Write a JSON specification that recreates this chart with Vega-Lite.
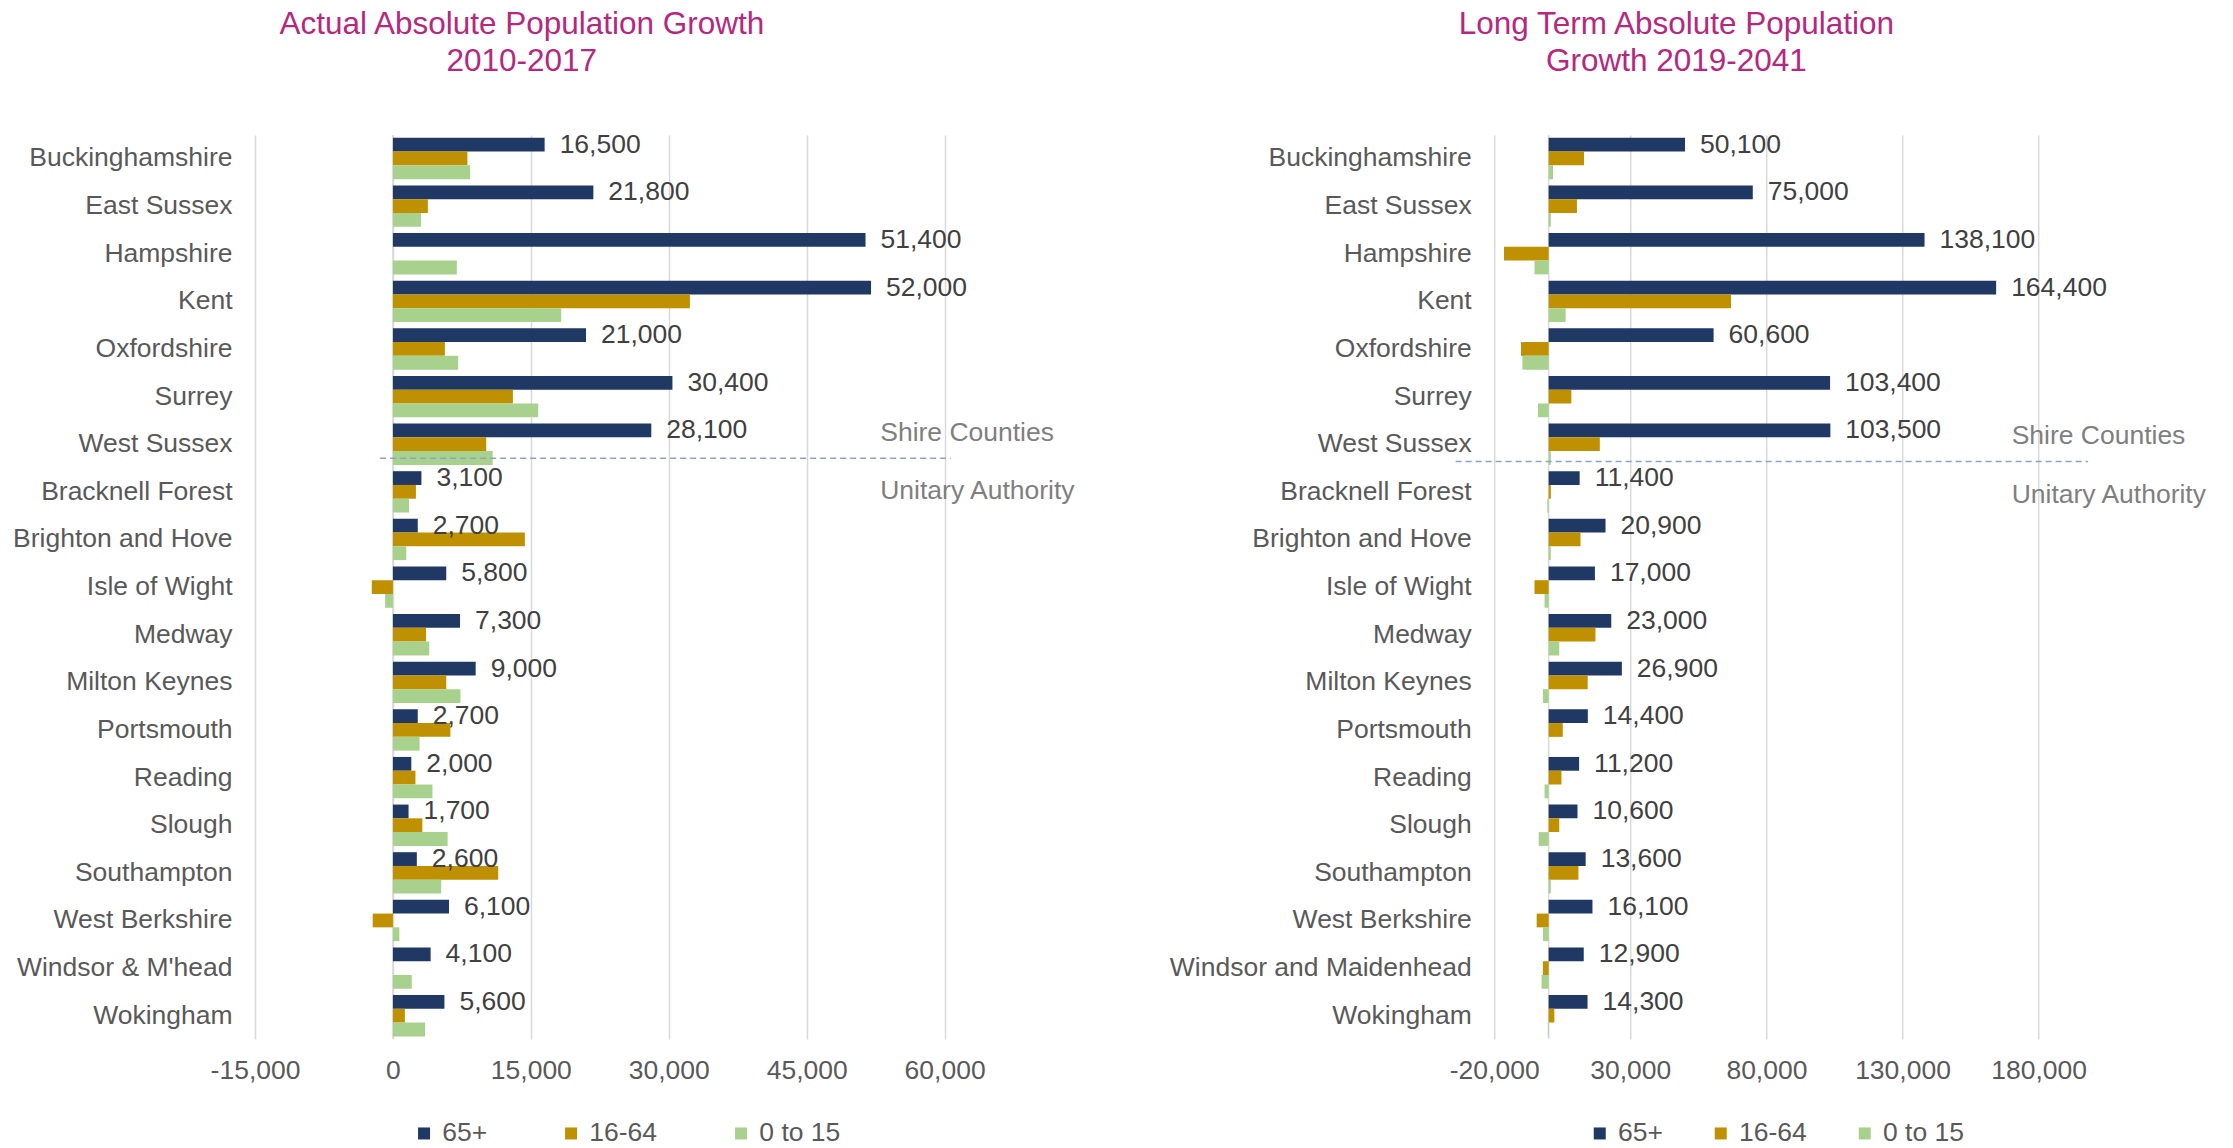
{
  "$schema": "https://vega.github.io/schema/vega-lite/v6.json",
  "padding": {"left": 0, "top": 8.1, "right": 0, "bottom": 0},
  "bounds": "flush",
  "spacing": 549.2,
  "background": "white",
  "config": {
    "font": "Liberation Sans",
    "view": {"stroke": null},
    "axis": {"labelFont": "Liberation Sans", "labelFontSize": 26.5, "labelColor": "#595959", "title": null, "ticks": false, "domain": false, "labelLimit": 0, "labelOverlap": false, "labelFlush": false},
    "legend": {"labelFont": "Liberation Sans", "labelLimit": 0}
  },
  "datasets": {
    "actual": [
      {"area": "Buckinghamshire", "group": "65+", "value": 16500},
      {"area": "Buckinghamshire", "group": "16-64", "value": 8100},
      {"area": "Buckinghamshire", "group": "0 to 15", "value": 8400},
      {"area": "East Sussex", "group": "65+", "value": 21800},
      {"area": "East Sussex", "group": "16-64", "value": 3800},
      {"area": "East Sussex", "group": "0 to 15", "value": 3050},
      {"area": "Hampshire", "group": "65+", "value": 51400},
      {"area": "Hampshire", "group": "16-64", "value": 0},
      {"area": "Hampshire", "group": "0 to 15", "value": 6950},
      {"area": "Kent", "group": "65+", "value": 52000},
      {"area": "Kent", "group": "16-64", "value": 32300},
      {"area": "Kent", "group": "0 to 15", "value": 18300},
      {"area": "Oxfordshire", "group": "65+", "value": 21000},
      {"area": "Oxfordshire", "group": "16-64", "value": 5650},
      {"area": "Oxfordshire", "group": "0 to 15", "value": 7100},
      {"area": "Surrey", "group": "65+", "value": 30400},
      {"area": "Surrey", "group": "16-64", "value": 13050},
      {"area": "Surrey", "group": "0 to 15", "value": 15800},
      {"area": "West Sussex", "group": "65+", "value": 28100},
      {"area": "West Sussex", "group": "16-64", "value": 10150},
      {"area": "West Sussex", "group": "0 to 15", "value": 10850},
      {"area": "Bracknell Forest", "group": "65+", "value": 3100},
      {"area": "Bracknell Forest", "group": "16-64", "value": 2500},
      {"area": "Bracknell Forest", "group": "0 to 15", "value": 1750},
      {"area": "Brighton and Hove", "group": "65+", "value": 2700},
      {"area": "Brighton and Hove", "group": "16-64", "value": 14350},
      {"area": "Brighton and Hove", "group": "0 to 15", "value": 1450},
      {"area": "Isle of Wight", "group": "65+", "value": 5800},
      {"area": "Isle of Wight", "group": "16-64", "value": -2300},
      {"area": "Isle of Wight", "group": "0 to 15", "value": -850},
      {"area": "Medway", "group": "65+", "value": 7300},
      {"area": "Medway", "group": "16-64", "value": 3600},
      {"area": "Medway", "group": "0 to 15", "value": 3950},
      {"area": "Milton Keynes", "group": "65+", "value": 9000},
      {"area": "Milton Keynes", "group": "16-64", "value": 5800},
      {"area": "Milton Keynes", "group": "0 to 15", "value": 7350},
      {"area": "Portsmouth", "group": "65+", "value": 2700},
      {"area": "Portsmouth", "group": "16-64", "value": 6250},
      {"area": "Portsmouth", "group": "0 to 15", "value": 2900},
      {"area": "Reading", "group": "65+", "value": 2000},
      {"area": "Reading", "group": "16-64", "value": 2450},
      {"area": "Reading", "group": "0 to 15", "value": 4300},
      {"area": "Slough", "group": "65+", "value": 1700},
      {"area": "Slough", "group": "16-64", "value": 3200},
      {"area": "Slough", "group": "0 to 15", "value": 5950},
      {"area": "Southampton", "group": "65+", "value": 2600},
      {"area": "Southampton", "group": "16-64", "value": 11450},
      {"area": "Southampton", "group": "0 to 15", "value": 5250},
      {"area": "West Berkshire", "group": "65+", "value": 6100},
      {"area": "West Berkshire", "group": "16-64", "value": -2200},
      {"area": "West Berkshire", "group": "0 to 15", "value": 700},
      {"area": "Windsor & M'head", "group": "65+", "value": 4100},
      {"area": "Windsor & M'head", "group": "16-64", "value": 0},
      {"area": "Windsor & M'head", "group": "0 to 15", "value": 2050},
      {"area": "Wokingham", "group": "65+", "value": 5600},
      {"area": "Wokingham", "group": "16-64", "value": 1300},
      {"area": "Wokingham", "group": "0 to 15", "value": 3500}
    ],
    "longterm": [
      {"area": "Buckinghamshire", "group": "65+", "value": 50100},
      {"area": "Buckinghamshire", "group": "16-64", "value": 13000},
      {"area": "Buckinghamshire", "group": "0 to 15", "value": 1600},
      {"area": "East Sussex", "group": "65+", "value": 75000},
      {"area": "East Sussex", "group": "16-64", "value": 10400},
      {"area": "East Sussex", "group": "0 to 15", "value": 800},
      {"area": "Hampshire", "group": "65+", "value": 138100},
      {"area": "Hampshire", "group": "16-64", "value": -16400},
      {"area": "Hampshire", "group": "0 to 15", "value": -5200},
      {"area": "Kent", "group": "65+", "value": 164400},
      {"area": "Kent", "group": "16-64", "value": 67000},
      {"area": "Kent", "group": "0 to 15", "value": 6250},
      {"area": "Oxfordshire", "group": "65+", "value": 60600},
      {"area": "Oxfordshire", "group": "16-64", "value": -10150},
      {"area": "Oxfordshire", "group": "0 to 15", "value": -9650},
      {"area": "Surrey", "group": "65+", "value": 103400},
      {"area": "Surrey", "group": "16-64", "value": 8350},
      {"area": "Surrey", "group": "0 to 15", "value": -3900},
      {"area": "West Sussex", "group": "65+", "value": 103500},
      {"area": "West Sussex", "group": "16-64", "value": 18800},
      {"area": "West Sussex", "group": "0 to 15", "value": 800},
      {"area": "Bracknell Forest", "group": "65+", "value": 11400},
      {"area": "Bracknell Forest", "group": "16-64", "value": 800},
      {"area": "Bracknell Forest", "group": "0 to 15", "value": -500},
      {"area": "Brighton and Hove", "group": "65+", "value": 20900},
      {"area": "Brighton and Hove", "group": "16-64", "value": 11700},
      {"area": "Brighton and Hove", "group": "0 to 15", "value": 800},
      {"area": "Isle of Wight", "group": "65+", "value": 17000},
      {"area": "Isle of Wight", "group": "16-64", "value": -5200},
      {"area": "Isle of Wight", "group": "0 to 15", "value": -1500},
      {"area": "Medway", "group": "65+", "value": 23000},
      {"area": "Medway", "group": "16-64", "value": 17200},
      {"area": "Medway", "group": "0 to 15", "value": 3900},
      {"area": "Milton Keynes", "group": "65+", "value": 26900},
      {"area": "Milton Keynes", "group": "16-64", "value": 14350},
      {"area": "Milton Keynes", "group": "0 to 15", "value": -2100},
      {"area": "Portsmouth", "group": "65+", "value": 14400},
      {"area": "Portsmouth", "group": "16-64", "value": 5200},
      {"area": "Portsmouth", "group": "0 to 15", "value": 0},
      {"area": "Reading", "group": "65+", "value": 11200},
      {"area": "Reading", "group": "16-64", "value": 4700},
      {"area": "Reading", "group": "0 to 15", "value": -1500},
      {"area": "Slough", "group": "65+", "value": 10600},
      {"area": "Slough", "group": "16-64", "value": 3900},
      {"area": "Slough", "group": "0 to 15", "value": -3650},
      {"area": "Southampton", "group": "65+", "value": 13600},
      {"area": "Southampton", "group": "16-64", "value": 10950},
      {"area": "Southampton", "group": "0 to 15", "value": 800},
      {"area": "West Berkshire", "group": "65+", "value": 16100},
      {"area": "West Berkshire", "group": "16-64", "value": -4400},
      {"area": "West Berkshire", "group": "0 to 15", "value": -2100},
      {"area": "Windsor and Maidenhead", "group": "65+", "value": 12900},
      {"area": "Windsor and Maidenhead", "group": "16-64", "value": -2100},
      {"area": "Windsor and Maidenhead", "group": "0 to 15", "value": -2600},
      {"area": "Wokingham", "group": "65+", "value": 14300},
      {"area": "Wokingham", "group": "16-64", "value": 2100},
      {"area": "Wokingham", "group": "0 to 15", "value": -300}
    ]
  },
  "resolve": {"legend": {"color": "independent"}},
  "hconcat": [
    {
      "width": 689.6,
      "height": 904,
      "title": {"text": ["Actual Absolute Population Growth", "2010-2017"], "color": "#B5287E", "fontSize": 31.5, "font": "Liberation Sans", "fontWeight": "normal", "anchor": "middle", "dx": -78, "offset": 54.2, "lineHeight": 37},
      "data": {"name": "actual"},
      "layer": [
        {
          "mark": {"type": "rule", "color": "#D9D9D9", "strokeWidth": 1.5},
          "data": {"values": [{"value": 0}]},
          "encoding": {"x": {"field": "value", "type": "quantitative",
              "scale": {"domain": [-15000, 60000], "nice": false, "zero": false},
              "axis": {"values": [-15000, 0, 15000, 30000, 45000, 60000], "labelExpr": "replace(format(datum.value, ','), '\u2212', '-')", "grid": true, "gridColor": "#D9D9D9", "gridWidth": 1.5, "labelPadding": 18, "labelFlush": false}}}
        },
        {
          "mark": {"type": "bar"},
          "encoding": {
            "y": {"field": "area", "type": "nominal", "sort": null,
              "scale": {"domain": ["Buckinghamshire","East Sussex","Hampshire","Kent","Oxfordshire","Surrey","West Sussex","Bracknell Forest","Brighton and Hove","Isle of Wight","Medway","Milton Keynes","Portsmouth","Reading","Slough","Southampton","West Berkshire","Windsor & M'head","Wokingham"], "paddingInner": 0.1325, "paddingOuter": 0.057},
              "axis": {"labelPadding": 23, "minExtent": 254.6, "labelLimit": 0}},
            "yOffset": {"field": "group", "type": "nominal", "scale": {"domain": ["65+", "16-64", "0 to 15"], "paddingInner": 0, "paddingOuter": 0}},
            "x": {"field": "value", "type": "quantitative",
              "scale": {"domain": [-15000, 60000], "nice": false, "zero": false},
              "axis": {"values": [-15000, 0, 15000, 30000, 45000, 60000], "labelExpr": "replace(format(datum.value, ','), '\u2212', '-')", "grid": true, "gridColor": "#D9D9D9", "gridWidth": 1.5, "labelPadding": 18, "labelFlush": false}},
            "color": {"field": "group", "type": "nominal",
              "scale": {"domain": ["65+", "16-64", "0 to 15"], "range": ["#203864", "#BF9000", "#A9D18E"]},
              "legend": {"orient": "none", "legendX": 155.8, "legendY": 985, "direction": "horizontal", "title": null, "symbolType": "square", "symbolSize": 144, "symbolStrokeWidth": 0, "labelFontSize": 26.5, "labelColor": "#595959", "columnPadding": 70, "labelOffset": 5, "padding": 0}}
          }
        },
        {
          "transform": [{"filter": "datum.group === '65+'"}],
          "mark": {"type": "text", "align": "left", "baseline": "middle", "dx": 15, "fontSize": 26.5, "color": "#404040"},
          "encoding": {
            "y": {"field": "area", "type": "nominal", "sort": null},
            "yOffset": {"field": "group", "type": "nominal"},
            "x": {"field": "value", "type": "quantitative"},
            "text": {"field": "value", "type": "quantitative", "format": ","}
          }
        },
        {
          "data": {"values": [{"a": -1390, "b": 60670}]},
          "mark": {"type": "rule", "color": "#8EA3C2", "strokeWidth": 1.5, "strokeDash": [6, 4]},
          "encoding": {
            "x": {"field": "a", "type": "quantitative"},
            "x2": {"field": "b"},
            "y": {"datum": "West Sussex", "type": "nominal", "bandPosition": 0.84}
          }
        },
        {
          "data": {"values": [{"note": "Shire Counties"}]},
          "mark": {"type": "text", "align": "left", "baseline": "middle", "fontSize": 26.5, "color": "#7F7F7F"},
          "encoding": {
            "x": {"datum": 53000, "type": "quantitative"},
            "y": {"datum": "West Sussex", "type": "nominal", "bandPosition": 0.22},
            "text": {"field": "note"}
          }
        },
        {
          "data": {"values": [{"note": "Unitary Authority"}]},
          "mark": {"type": "text", "align": "left", "baseline": "middle", "fontSize": 26.5, "color": "#7F7F7F"},
          "encoding": {
            "x": {"datum": 53000, "type": "quantitative"},
            "y": {"datum": "Bracknell Forest", "type": "nominal", "bandPosition": 0.48},
            "text": {"field": "note"}
          }
        }
      ]
    },
    {
      "width": 544.4,
      "height": 904,
      "title": {"text": ["Long Term Absolute Population", "Growth 2019-2041"], "color": "#B5287E", "fontSize": 31.5, "font": "Liberation Sans", "fontWeight": "normal", "anchor": "middle", "dx": -90, "offset": 54.2, "lineHeight": 37},
      "data": {"name": "longterm"},
      "layer": [
        {
          "mark": {"type": "rule", "color": "#D9D9D9", "strokeWidth": 1.5},
          "data": {"values": [{"value": 0}]},
          "encoding": {"x": {"field": "value", "type": "quantitative",
              "scale": {"domain": [-20000, 180000], "nice": false, "zero": false},
              "axis": {"values": [-20000, 30000, 80000, 130000, 180000], "labelExpr": "replace(format(datum.value, ','), '\u2212', '-')", "grid": true, "gridColor": "#D9D9D9", "gridWidth": 1.5, "labelPadding": 18, "labelFlush": false}}}
        },
        {
          "mark": {"type": "bar"},
          "encoding": {
            "y": {"field": "area", "type": "nominal", "sort": null,
              "scale": {"domain": ["Buckinghamshire","East Sussex","Hampshire","Kent","Oxfordshire","Surrey","West Sussex","Bracknell Forest","Brighton and Hove","Isle of Wight","Medway","Milton Keynes","Portsmouth","Reading","Slough","Southampton","West Berkshire","Windsor and Maidenhead","Wokingham"], "paddingInner": 0.1325, "paddingOuter": 0.057},
              "axis": {"labelPadding": 23, "labelLimit": 0}},
            "yOffset": {"field": "group", "type": "nominal", "scale": {"domain": ["65+", "16-64", "0 to 15"], "paddingInner": 0, "paddingOuter": 0}},
            "x": {"field": "value", "type": "quantitative",
              "scale": {"domain": [-20000, 180000], "nice": false, "zero": false},
              "axis": {"values": [-20000, 30000, 80000, 130000, 180000], "labelExpr": "replace(format(datum.value, ','), '\u2212', '-')", "grid": true, "gridColor": "#D9D9D9", "gridWidth": 1.5, "labelPadding": 18, "labelFlush": false}},
            "color": {"field": "group", "type": "nominal",
              "scale": {"domain": ["65+", "16-64", "0 to 15"], "range": ["#203864", "#BF9000", "#A9D18E"]},
              "legend": {"orient": "none", "legendX": 92.3, "legendY": 985, "direction": "horizontal", "title": null, "symbolType": "square", "symbolSize": 144, "symbolStrokeWidth": 0, "labelFontSize": 26.5, "labelColor": "#595959", "columnPadding": 44, "labelOffset": 5, "padding": 0}}
          }
        },
        {
          "transform": [{"filter": "datum.group === '65+'"}],
          "mark": {"type": "text", "align": "left", "baseline": "middle", "dx": 15, "fontSize": 26.5, "color": "#404040"},
          "encoding": {
            "y": {"field": "area", "type": "nominal", "sort": null},
            "yOffset": {"field": "group", "type": "nominal"},
            "x": {"field": "value", "type": "quantitative"},
            "text": {"field": "value", "type": "quantitative", "format": ","}
          }
        },
        {
          "data": {"values": [{"a": -34170, "b": 198200}]},
          "mark": {"type": "rule", "color": "#8EA3C2", "strokeWidth": 1.5, "strokeDash": [6, 4]},
          "encoding": {
            "x": {"field": "a", "type": "quantitative"},
            "x2": {"field": "b"},
            "y": {"datum": "West Sussex", "type": "nominal", "bandPosition": 0.92}
          }
        },
        {
          "data": {"values": [{"note": "Shire Counties"}]},
          "mark": {"type": "text", "align": "left", "baseline": "middle", "fontSize": 26.5, "color": "#7F7F7F"},
          "encoding": {
            "x": {"datum": 170100, "type": "quantitative"},
            "y": {"datum": "West Sussex", "type": "nominal", "bandPosition": 0.3},
            "text": {"field": "note"}
          }
        },
        {
          "data": {"values": [{"note": "Unitary Authority"}]},
          "mark": {"type": "text", "align": "left", "baseline": "middle", "fontSize": 26.5, "color": "#7F7F7F"},
          "encoding": {
            "x": {"datum": 170100, "type": "quantitative"},
            "y": {"datum": "Bracknell Forest", "type": "nominal", "bandPosition": 0.57},
            "text": {"field": "note"}
          }
        }
      ]
    }
  ]
}
